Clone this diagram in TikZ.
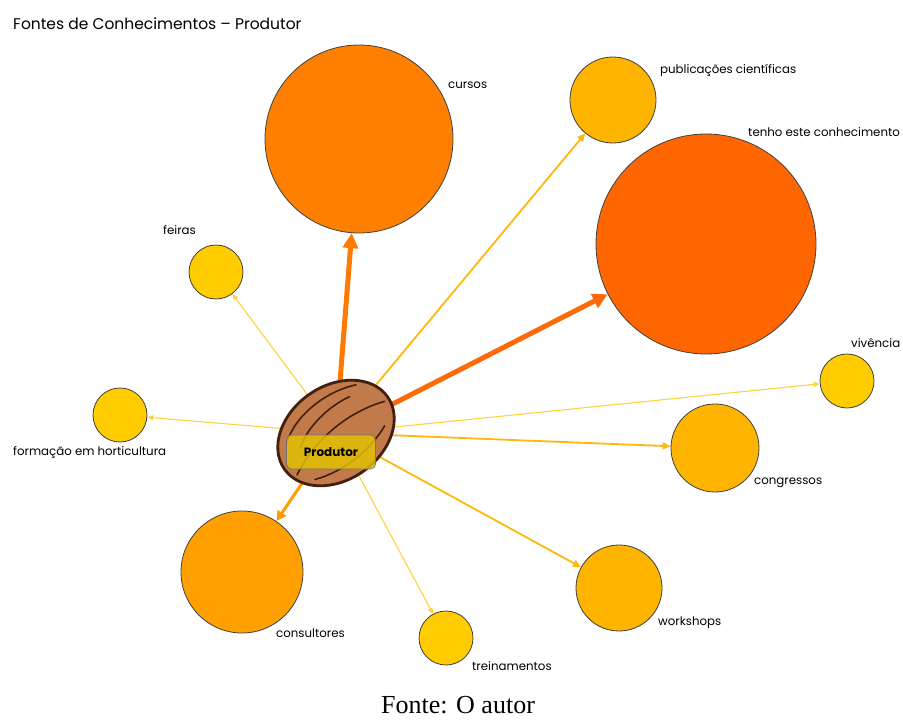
\documentclass[tikz,border=0pt]{standalone}
\usepackage{fontspec}
\setmainfont{Liberation Serif}
\newfontfamily\labelfont{Poppins}
\usetikzlibrary{shapes.geometric,arrows.meta}
\definecolor{cBig}{HTML}{FF6600}
\definecolor{cLarge}{HTML}{FF7F00}
\definecolor{cMedium}{HTML}{FFA000}
\definecolor{cMid}{HTML}{FFB400}
\definecolor{cSmall}{HTML}{FFCC00}
\definecolor{aBig}{HTML}{FF6A08}
\definecolor{aLarge}{HTML}{FF7A00}
\definecolor{aMedium}{HTML}{FF9C00}
\definecolor{aMid}{HTML}{FFB80A}
\definecolor{aSmall}{HTML}{FFD040}
\definecolor{nutbrown}{HTML}{C27A4A}
\definecolor{nutdark}{HTML}{42200F}
\definecolor{tagyellow}{HTML}{E6C400}
\tikzset{
  source/.style={circle, inner sep=0pt, draw=black!75, line width=0.8pt},
  lbl/.style={anchor=west, inner sep=0pt, font=\labelfont\fontsize{11.8}{14}\selectfont},
  thickconn/.style={line width=5pt, -{Triangle[length=15pt,width=15pt]}},
  mediumconn/.style={line width=3pt, -{Triangle[length=10pt,width=10pt]}},
  midconn/.style={line width=1.8pt, -{Triangle[length=8pt,width=7pt]}},
  thinconn/.style={line width=1.1pt, -{Triangle[length=6pt,width=5pt]}}
}
\begin{document}
\begin{tikzpicture}[x=1pt,y=-1pt]
\useasboundingbox (0,0) rectangle (903,720);

% knowledge sources
\node[source, fill=cLarge,  minimum size=188pt] (cursos)   at (359,139) {};
\node[source, fill=cMid,    minimum size=86pt]  (public)   at (613,100) {};
\node[source, fill=cBig,    minimum size=220pt] (tenho)    at (706,244) {};
\node[source, fill=cSmall,  minimum size=54pt]  (feiras)   at (216,272) {};
\node[source, fill=cSmall,  minimum size=54pt]  (formacao) at (120,415) {};
\node[source, fill=cSmall,  minimum size=54pt]  (vivencia) at (847,381) {};
\node[source, fill=cMid,    minimum size=88pt]  (congress) at (715,448) {};
\node[source, fill=cMedium, minimum size=122pt] (consult)  at (242,572) {};
\node[source, fill=cSmall,  minimum size=54pt]  (treinam)  at (446,638) {};
\node[source, fill=cMid,    minimum size=86pt]  (workshop) at (619,588) {};

% labels
\node[lbl] (tcursos)   at (448,85)  {cursos};
\node[lbl] (tpublic)   at (660,70)  {publicações científicas};
\node[lbl] (ttenho)    at (748,132) {tenho este conhecimento};
\node[lbl] (tfeiras)   at (163,230) {feiras};
\node[lbl] (tformacao) at (13,453)  {formação em horticultura};
\node[lbl] (tvivencia) at (851,343) {vivência};
\node[lbl] (tcongress) at (754,483) {congressos};
\node[lbl] (tconsult)  at (276,633) {consultores};
\node[lbl] (ttreinam)  at (472,666) {treinamentos};
\node[lbl] (tworkshop) at (658,623) {workshops};

% connectors from the producer
\coordinate (prod) at (336,433);
\draw[thinconn, aSmall]  (prod) -- (feiras);
\draw[thinconn, aSmall]  (prod) -- (formacao);
\draw[thinconn, aSmall]  (prod) -- (vivencia);
\draw[thinconn, aSmall]  (prod) -- (treinam);
\draw[midconn, aMid]     (prod) -- (public);
\draw[midconn, aMid]     (prod) -- (congress);
\draw[midconn, aMid]     (prod) -- (workshop);
\draw[mediumconn, aMedium] (prod) -- (consult);
\draw[thickconn, aLarge] (prod) -- (cursos);
\draw[thickconn, aBig]   (prod) -- (tenho);

% the nut
\node[ellipse, rotate=35, minimum width=126pt, minimum height=94pt, inner sep=0pt,
      fill=nutbrown, draw=nutdark, line width=2.8pt] (nut) at (prod) {};
\begin{scope}[shift={(prod)}, rotate=35, nutdark, line width=1.6pt, line cap=round]
  \draw (-56,12) .. controls (-20,-8) and (24,-10) .. (58,2);
  \draw (-46,-20) .. controls (-24,-38) and (16,-40) .. (44,-28);
  \draw (-38,-8) .. controls (-20,-22) and (10,-26) .. (32,-22);
  \draw (-44,26) .. controls (-16,36) and (18,34) .. (44,22);
\end{scope}

% producer tag
\node[rounded corners=5pt, fill=tagyellow, fill opacity=0.8, draw=black!55,
      line width=0.8pt, minimum width=89pt, minimum height=34pt, text opacity=1,
      font=\labelfont\bfseries\fontsize{12}{14}\selectfont] (tag) at (331,452) {Produtor};

% title and source line
\node[anchor=west, inner sep=0pt, font=\labelfont\fontsize{15.5}{18}\selectfont] (title) at (13,24)
  {Fontes de Conhecimentos – Produtor};
\node[inner sep=0pt, font=\fontsize{26}{30}\selectfont] (fonte) at (458,705) {Fonte: O autor};
\end{tikzpicture}
\end{document}
